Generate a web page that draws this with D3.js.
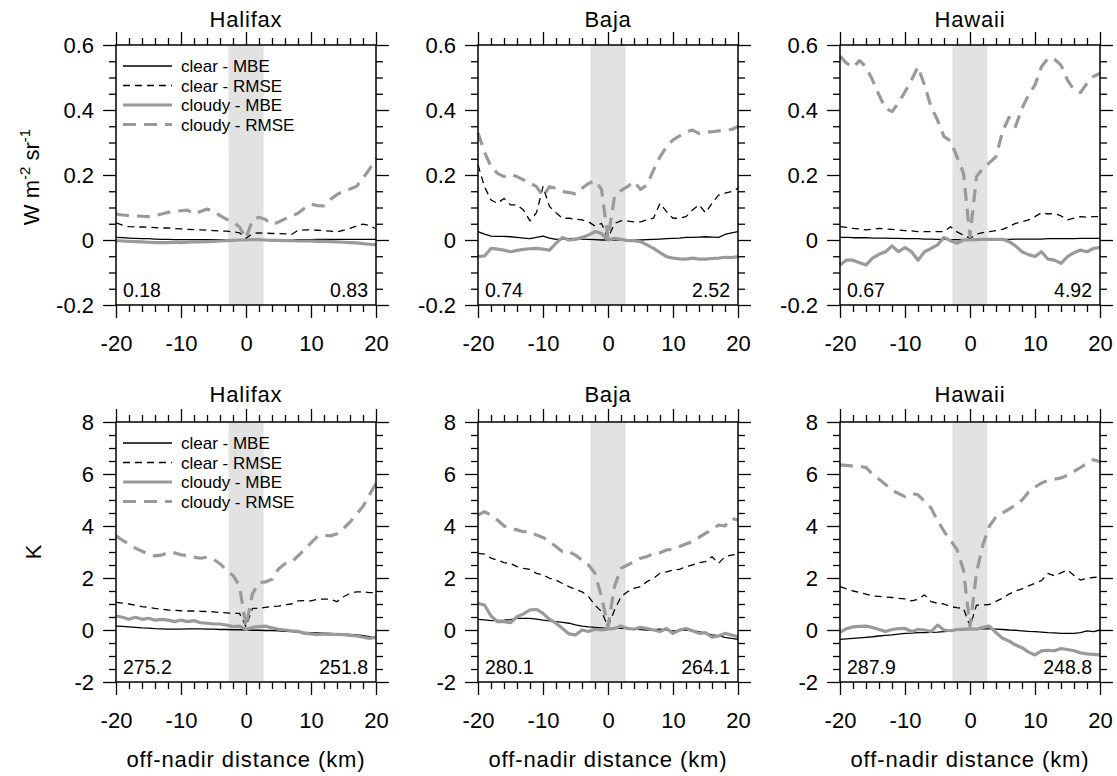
<!DOCTYPE html>
<html>
<head>
<meta charset="utf-8">
<script src="https://cdn.jsdelivr.net/npm/d3@7"></script>
<style>
  body { margin: 0; background: #fff; }
  text { font-family: "Liberation Sans", Arial, Helvetica, sans-serif; fill: #000; }
</style>
</head>
<body>
<script>
// off-nadir distance grid (km)
var distance = [-20,-19,-18,-17,-16,-15,-14,-13,-12,-11,-10,-9,-8,-7,-6,-5,-4,-3,-2,-1,
  0,1,2,3,4,5,6,7,8,9,10,11,12,13,14,15,16,17,18,19,20];

var sites = ['Halifax', 'Baja', 'Hawaii'];
var seriesNames = ['clear - MBE', 'clear - RMSE', 'cloudy - MBE', 'cloudy - RMSE'];

var xMajorTicks = [-20, -10, 0, 10, 20];
var xMinorTicks = [-18,-16,-14,-12,-8,-6,-4,-2,2,4,6,8,12,14,16,18];
var radMajorTicks = [-0.2, 0, 0.2, 0.4, 0.6];
var radMinorTicks = [-0.15,-0.1,-0.05,0.05,0.1,0.15,0.25,0.3,0.35,0.45,0.5,0.55];
var btMajorTicks = [-2, 0, 2, 4, 6, 8];
var btMinorTicks = [-1.5,-1,-0.5,0.5,1,1.5,2.5,3,3.5,4.5,5,5.5,6.5,7,7.5];

// corner annotations (left, right) per panel
var radCorner = [['0.18', '0.83'], ['0.74', '2.52'], ['0.67', '4.92']];
var btCorner = [['275.2', '251.8'], ['280.1', '264.1'], ['287.9', '248.8']];

// ---- radiance (W m-2 sr-1) ----
var hfxRadClearMBE = [0.008,0.007,0.006,0.005,0.004, 0.004,0.003,0.002,0.002,0.001,
  0.001,0.001,0.001,0.001,0.001, 0.001,0.001,0.001,0.000,0.000, 0.000,
  0.000,0.000,0.001,0.001,0.001, 0.001,0.001,0.001,0.001,0.001,
  0.002,0.002,0.002,0.002,0.002, 0.002,0.002,0.002,0.002,0.002];
var hfxRadClearRMSE = [0.053,0.046,0.041,0.040,0.040, 0.039,0.038,0.037,0.037,0.035,
  0.034,0.033,0.032,0.031,0.030, 0.029,0.028,0.027,0.025,0.022, 0.005,
  0.020,0.022,0.021,0.020,0.020, 0.019,0.017,0.030,0.031,0.031,
  0.030,0.029,0.027,0.025,0.030, 0.036,0.043,0.049,0.045,0.034];
var hfxRadCloudyMBE = [-0.002,-0.003,-0.004,-0.005,-0.006, -0.007,-0.008,-0.008,-0.008,-0.007,
  -0.008,-0.007,-0.006,-0.006,-0.005, -0.004,-0.003,-0.002,-0.001,0.000, 0.000,
  0.001,0.001,0.000,-0.001,-0.001, -0.002,-0.002,-0.003,-0.003,-0.003,
  -0.004,-0.004,-0.005,-0.006,-0.007, -0.008,-0.009,-0.011,-0.013,-0.015];
var hfxRadCloudyRMSE = [0.080,0.077,0.075,0.074,0.073, 0.072,0.075,0.080,0.085,0.088,
  0.090,0.092,0.080,0.088,0.095, 0.090,0.075,0.064,0.055,0.040, 0.005,
  0.062,0.070,0.063,0.048,0.055, 0.065,0.074,0.082,0.098,0.110,
  0.106,0.105,0.125,0.140,0.150, 0.157,0.165,0.190,0.218,0.251];

var bajRadClearMBE = [0.026,0.018,0.012,0.011,0.011, 0.010,0.008,0.006,0.004,0.008,
  0.012,0.006,0.002,0.003,0.004, 0.005,0.003,0.002,0.001,0.000, 0.000,
  0.000,0.000,0.000,0.000,0.000, 0.001,0.002,0.003,0.004,0.005,
  0.006,0.008,0.008,0.009,0.010, 0.009,0.008,0.017,0.022,0.026];
var bajRadClearRMSE = [0.231,0.164,0.123,0.113,0.128, 0.108,0.108,0.092,0.059,0.084,
  0.164,0.103,0.084,0.067,0.067, 0.064,0.062,0.056,0.043,0.051, 0.005,
  0.051,0.059,0.058,0.056,0.056, 0.062,0.067,0.113,0.087,0.067,
  0.067,0.072,0.092,0.108,0.084, 0.113,0.138,0.144,0.149,0.159];
var bajRadCloudyMBE = [-0.051,-0.049,-0.026,-0.028,-0.031, -0.036,-0.032,-0.029,-0.027,-0.026,
  -0.028,-0.031,-0.010,0.008,0.000, 0.002,0.008,0.015,0.026,0.020, 0.000,
  0.005,0.002,-0.002,-0.002,-0.005, -0.015,-0.026,-0.039,-0.051,-0.056,
  -0.058,-0.059,-0.056,-0.059,-0.059, -0.057,-0.056,-0.053,-0.054,-0.051];
var bajRadCloudyRMSE = [0.330,0.270,0.226,0.205,0.195, 0.203,0.195,0.185,0.176,0.164,
  0.135,0.164,0.159,0.149,0.146, 0.142,0.159,0.174,0.183,0.156, 0.005,
  0.133,0.152,0.164,0.180,0.156, 0.169,0.215,0.256,0.287,0.308,
  0.320,0.333,0.338,0.328,0.333, 0.333,0.336,0.338,0.340,0.349];

var hawRadClearMBE = [0.008,0.008,0.007,0.007,0.007, 0.006,0.006,0.006,0.005,0.005,
  0.004,0.004,0.004,0.003,0.003, 0.002,0.002,0.001,0.001,0.000, 0.000,
  0.000,0.001,0.001,0.002,0.002, 0.002,0.003,0.003,0.003,0.003,
  0.003,0.004,0.004,0.004,0.004, 0.004,0.005,0.005,0.005,0.005];
var hawRadClearRMSE = [0.041,0.039,0.036,0.034,0.031, 0.033,0.036,0.034,0.033,0.031,
  0.029,0.028,0.026,0.026,0.026, 0.026,0.026,0.041,0.025,0.015, 0.005,
  0.018,0.023,0.026,0.029,0.033, 0.041,0.051,0.056,0.062,0.072,
  0.084,0.080,0.082,0.074,0.062, 0.067,0.072,0.070,0.072,0.072];
var hawRadCloudyMBE = [-0.077,-0.062,-0.062,-0.070,-0.077, -0.056,-0.044,-0.036,-0.018,-0.036,
  -0.023,-0.036,-0.062,-0.036,-0.026, -0.015,0.008,-0.002,-0.010,0.000, 0.000,
  0.001,0.002,0.002,0.002,0.002, -0.005,-0.018,-0.036,-0.045,-0.051,
  -0.036,-0.059,-0.062,-0.072,-0.051, -0.039,-0.031,-0.036,-0.026,-0.023];
var hawRadCloudyRMSE = [0.566,0.544,0.531,0.552,0.533, 0.492,0.446,0.405,0.395,0.421,
  0.456,0.492,0.533,0.477,0.410, 0.369,0.318,0.305,0.256,0.205, 0.010,
  0.195,0.221,0.238,0.256,0.333, 0.377,0.349,0.405,0.446,0.477,
  0.533,0.559,0.556,0.538,0.492, 0.462,0.454,0.482,0.503,0.513];

// ---- brightness temperature (K) ----
var hfxBtClearMBE = [0.15,0.14,0.12,0.10,0.08, 0.07,0.05,0.04,0.03,0.03,
  0.03,0.04,0.04,0.04,0.03, 0.03,0.02,0.02,0.01,0.01, 0.00,
  -0.01,-0.01,-0.02,-0.02,-0.03, -0.05,-0.06,-0.08,-0.09,-0.10,
  -0.11,-0.12,-0.13,-0.15,-0.16, -0.17,-0.19,-0.22,-0.26,-0.30];
var hfxBtClearRMSE = [1.06,1.03,1.00,0.95,0.90, 0.87,0.83,0.80,0.77,0.76,
  0.74,0.73,0.73,0.72,0.71, 0.70,0.67,0.66,0.64,0.64, 0.13,
  0.83,0.83,0.87,0.90,0.92, 0.97,1.00,1.12,1.13,1.12,
  1.18,1.19,1.18,1.09,1.28, 1.41,1.47,1.47,1.44,1.44];
var hfxBtCloudyMBE = [0.54,0.49,0.41,0.49,0.41, 0.45,0.38,0.41,0.38,0.32,
  0.38,0.32,0.36,0.28,0.26, 0.23,0.23,0.19,0.13,0.15, 0.02,
  0.10,0.13,0.15,0.08,0.03, 0.00,-0.03,-0.05,-0.13,-0.15,
  -0.18,-0.15,-0.17,-0.17,-0.18, -0.21,-0.23,-0.28,-0.32,-0.28];
var hfxBtCloudyRMSE = [3.62,3.45,3.30,3.15,3.03, 2.92,2.85,2.88,2.98,2.97,
  2.89,2.86,2.80,2.76,2.80, 2.72,2.55,2.30,2.10,1.70, 0.13,
  1.40,1.82,1.85,1.95,2.35, 2.55,2.60,2.85,3.10,3.35,
  3.60,3.65,3.62,3.70,3.90, 4.15,4.45,4.75,5.20,5.65];

var bajBtClearMBE = [0.41,0.39,0.36,0.37,0.38, 0.40,0.45,0.45,0.45,0.42,
  0.38,0.35,0.32,0.29,0.26, 0.20,0.15,0.12,0.10,0.08, 0.06,
  0.06,0.06,0.05,0.03,0.02, 0.00,0.01,0.03,0.00,-0.03,
  -0.02,0.00,-0.03,-0.06,-0.12, -0.19,-0.22,-0.28,-0.32,-0.36];
var bajBtClearRMSE = [2.95,2.92,2.76,2.69,2.59, 2.56,2.44,2.37,2.33,2.18,
  2.12,1.99,1.92,1.79,1.67, 1.56,1.47,1.28,0.96,0.71, 0.13,
  0.77,1.28,1.47,1.60,1.67, 1.86,1.99,2.18,2.24,2.31,
  2.33,2.44,2.50,2.59,2.63, 2.82,2.56,2.82,2.88,2.92];
var bajBtCloudyMBE = [1.03,0.96,0.54,0.32,0.32, 0.28,0.51,0.62,0.77,0.79,
  0.64,0.41,0.26,0.06,-0.15, -0.19,0.00,-0.06,0.03,0.00, 0.03,
  0.06,0.15,0.06,0.03,0.10, 0.06,0.00,-0.06,0.06,-0.13,
  0.00,0.06,-0.03,-0.13,-0.10, -0.28,-0.23,-0.13,-0.19,-0.26];
var bajBtCloudyRMSE = [4.42,4.55,4.42,4.23,4.00, 3.91,3.85,3.78,3.78,3.65,
  3.56,3.40,3.21,3.01,3.01, 2.88,2.69,2.50,2.18,1.28, 0.13,
  1.67,2.37,2.50,2.63,2.76, 2.82,2.95,2.97,3.08,3.10,
  3.21,3.31,3.40,3.56,3.72, 3.85,4.04,4.00,4.29,4.23];

var hawBtClearMBE = [-0.36,-0.34,-0.32,-0.30,-0.28, -0.26,-0.23,-0.21,-0.19,-0.16,
  -0.13,-0.12,-0.10,-0.10,-0.09, -0.08,-0.06,-0.04,0.00,0.01, 0.03,
  0.04,0.05,0.04,0.03,0.02, 0.00,-0.01,-0.03,-0.05,-0.06,
  -0.08,-0.10,-0.11,-0.13,-0.13, -0.13,-0.10,-0.03,-0.06,0.00];
var hawBtClearRMSE = [1.67,1.58,1.50,1.45,1.38, 1.31,1.29,1.27,1.25,1.22,
  1.20,1.12,1.18,1.35,1.09, 1.03,1.00,0.90,0.86,0.83, 0.13,
  0.96,0.96,0.98,1.10,1.22, 1.38,1.50,1.58,1.70,1.80,
  1.90,2.18,2.08,2.20,2.31, 2.10,1.92,1.99,2.02,2.05];
var hawBtCloudyMBE = [-0.09,0.05,0.12,0.14,0.15, 0.10,0.02,-0.06,0.02,0.05,
  0.06,-0.06,0.02,0.00,-0.06, 0.19,0.00,-0.03,0.02,0.03, 0.03,
  0.03,0.10,0.15,-0.10,-0.32, -0.42,-0.58,-0.68,-0.85,-0.96,
  -0.80,-0.78,-0.80,-0.71,-0.75, -0.80,-0.88,-0.92,-0.94,-0.96];
var hawBtCloudyRMSE = [6.35,6.33,6.30,6.30,6.25, 6.00,5.80,5.60,5.38,5.25,
  5.13,5.25,5.20,4.95,4.70, 4.20,3.80,3.45,3.10,2.30, 0.13,
  2.20,3.30,4.00,4.35,4.50, 4.65,4.80,5.00,5.30,5.50,
  5.65,5.75,5.80,5.85,5.95, 6.10,6.25,6.41,6.55,6.47];

// ---- layout ----
var width = 1117, height = 776;
var plotW = 260, plotH = 260;
var colLeft = [116, 478, 840];
var rowTop = [45, 422];
var nadirHalfWidth = 2.7;   // shaded band, km

var styles = [
  { stroke: '#000', width: 1.3, dash: null },
  { stroke: '#000', width: 1.3, dash: '7,5' },
  { stroke: '#9a9a9a', width: 3.2, dash: null },
  { stroke: '#9a9a9a', width: 3.2, dash: '13,8' }
];

var x = d3.scaleLinear().domain([-20, 20]).range([0, plotW]);
var yRad = d3.scaleLinear().domain([-0.2, 0.6]).range([plotH, 0]);
var yBt = d3.scaleLinear().domain([-2, 8]).range([plotH, 0]);

var rows = [
  { y: yRad, major: radMajorTicks, minor: radMinorTicks, corner: radCorner,
    series: [
      [hfxRadClearMBE, hfxRadClearRMSE, hfxRadCloudyMBE, hfxRadCloudyRMSE],
      [bajRadClearMBE, bajRadClearRMSE, bajRadCloudyMBE, bajRadCloudyRMSE],
      [hawRadClearMBE, hawRadClearRMSE, hawRadCloudyMBE, hawRadCloudyRMSE]
    ], titleY: -18 },
  { y: yBt, major: btMajorTicks, minor: btMinorTicks, corner: btCorner,
    series: [
      [hfxBtClearMBE, hfxBtClearRMSE, hfxBtCloudyMBE, hfxBtCloudyRMSE],
      [bajBtClearMBE, bajBtClearRMSE, bajBtCloudyMBE, bajBtCloudyRMSE],
      [hawBtClearMBE, hawBtClearRMSE, hawBtCloudyMBE, hawBtCloudyRMSE]
    ], titleY: -20 }
];

var svg = d3.select('body').append('svg')
  .attr('width', width).attr('height', height);

function styleAxis(g, fontSize) {
  g.select('.domain').remove();
  g.selectAll('line').attr('stroke', '#000').attr('stroke-width', 1.3);
  g.selectAll('text')
    .attr('font-family', '"Liberation Sans", Arial, sans-serif')
    .attr('font-size', fontSize).attr('fill', '#000');
}

function drawAxes(g, y, major, minor) {
  var fmt = function(d) { return String(d); };
  // major ticks with labels on bottom and left
  g.append('g').attr('transform', 'translate(0,' + plotH + ')')
    .call(d3.axisBottom(x).tickValues(major.x).tickSize(13).tickPadding(17).tickFormat(fmt))
    .call(styleAxis, 22);
  g.append('g')
    .call(d3.axisLeft(y).tickValues(major.y).tickSize(13).tickPadding(9).tickFormat(fmt))
    .call(styleAxis, 22);
  // unlabelled majors on top/right
  g.append('g').call(d3.axisTop(x).tickValues(major.x).tickSize(13).tickFormat(''))
    .call(styleAxis, 22);
  g.append('g').attr('transform', 'translate(' + plotW + ',0)')
    .call(d3.axisRight(y).tickValues(major.y).tickSize(13).tickFormat(''))
    .call(styleAxis, 22);
  // minor ticks
  g.append('g').attr('transform', 'translate(0,' + plotH + ')')
    .call(d3.axisBottom(x).tickValues(minor.x).tickSize(7).tickFormat('')).call(styleAxis, 22);
  g.append('g').call(d3.axisTop(x).tickValues(minor.x).tickSize(7).tickFormat('')).call(styleAxis, 22);
  g.append('g').call(d3.axisLeft(y).tickValues(minor.y).tickSize(7).tickFormat('')).call(styleAxis, 22);
  g.append('g').attr('transform', 'translate(' + plotW + ',0)')
    .call(d3.axisRight(y).tickValues(minor.y).tickSize(7).tickFormat('')).call(styleAxis, 22);
}

function drawLegend(g) {
  var lg = g.append('g').attr('class', 'legend');
  seriesNames.forEach(function(name, i) {
    var yy = 21 + i * 19.5;
    var s = styles[i];
    lg.append('line')
      .attr('x1', 7).attr('x2', 56).attr('y1', yy).attr('y2', yy)
      .attr('stroke', s.stroke).attr('stroke-width', s.width)
      .attr('stroke-dasharray', s.dash);
    lg.append('text')
      .attr('x', 65).attr('y', yy).attr('dy', '0.36em')
      .attr('font-size', 17).text(name);
  });
}

rows.forEach(function(row, r) {
  sites.forEach(function(site, c) {
    var g = svg.append('g')
      .attr('transform', 'translate(' + colLeft[c] + ',' + rowTop[r] + ')');

    // nadir band
    g.append('rect')
      .attr('x', x(-nadirHalfWidth)).attr('y', 0)
      .attr('width', x(nadirHalfWidth) - x(-nadirHalfWidth)).attr('height', plotH)
      .attr('fill', '#e2e2e2');

    var line = d3.line()
      .x(function(d) { return x(d[0]); })
      .y(function(d) { return row.y(d[1]); });

    row.series[c].forEach(function(vals, i) {
      var s = styles[i];
      g.append('path')
        .datum(distance.map(function(d, k) { return [d, vals[k]]; }))
        .attr('d', line)
        .attr('fill', 'none')
        .attr('stroke', s.stroke)
        .attr('stroke-width', s.width)
        .attr('stroke-dasharray', s.dash)
        .attr('stroke-linejoin', 'round');
    });

    // frame
    g.append('rect').attr('width', plotW).attr('height', plotH)
      .attr('fill', 'none').attr('stroke', '#000').attr('stroke-width', 1.5);

    drawAxes(g, row.y, { x: xMajorTicks, y: row.major }, { x: xMinorTicks, y: row.minor });

    g.append('text')
      .attr('x', plotW / 2).attr('y', row.titleY)
      .attr('text-anchor', 'middle').attr('font-size', 22)
      .attr('letter-spacing', '0.8px')
      .text(site);

    g.append('text').attr('x', 7).attr('y', plotH - 8)
      .attr('font-size', 19.5).text(row.corner[c][0]);
    g.append('text').attr('x', plotW - 8).attr('y', plotH - 8)
      .attr('text-anchor', 'end').attr('font-size', 19.5).text(row.corner[c][1]);

    if (c === 0) drawLegend(g);

    if (r === 1) {
      g.append('text')
        .attr('x', plotW / 2).attr('y', plotH + 85)
        .attr('text-anchor', 'middle').attr('font-size', 22)
        .attr('letter-spacing', '0.9px')
        .text('off-nadir distance (km)');
    }
  });
});

// y axis titles
var radTitle = svg.append('text')
  .attr('transform', 'translate(39,' + (rowTop[0] + plotH / 2 + 2) + ') rotate(-90)')
  .attr('text-anchor', 'middle').attr('font-size', 22);
radTitle.append('tspan').text('W m');
radTitle.append('tspan').attr('dy', -9).attr('font-size', 15).text('-2');
radTitle.append('tspan').attr('dy', 9).text(' sr');
radTitle.append('tspan').attr('dy', -9).attr('font-size', 15).text('-1');

svg.append('text')
  .attr('transform', 'translate(41,' + (rowTop[1] + plotH / 2) + ') rotate(-90)')
  .attr('text-anchor', 'middle').attr('font-size', 22)
  .text('K');
</script>
</body>
</html>
